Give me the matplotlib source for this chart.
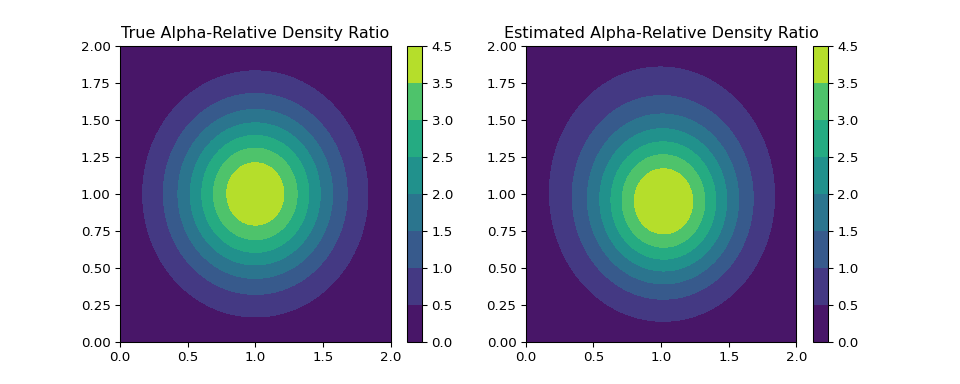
import numpy as np
import matplotlib.pyplot as plt

# true densities: p = N(mu, var_p * I), q = N(mu, var_q * I)
true_mean = [1.0, 1.0]
true_var_p = 1.0 / 8
true_var_q = 1.0 / 2
alpha = 0.0

# estimated ratio as a sum of gaussian kernels
est_cx = [1.025, 0.975]
est_cy = [0.92, 1.13]
est_weight = [3.15, 1.0]
est_sx = [0.365, 0.52]
est_sy = [0.37, 0.52]

levels = [0.0, 0.5, 1.0, 1.5, 2.0, 2.5, 3.0, 3.5, 4.5]

grid = np.linspace(0, 2, 300)
X, Y = np.meshgrid(grid, grid)


def gauss2d(x, y, mean, var):
    d2 = (x - mean[0]) ** 2 + (y - mean[1]) ** 2
    return np.exp(-d2 / (2 * var)) / (2 * np.pi * var)


p = gauss2d(X, Y, true_mean, true_var_p)
q = gauss2d(X, Y, true_mean, true_var_q)
Z_true = p / (alpha * p + (1 - alpha) * q)

Z_est = np.zeros_like(X)
for cx, cy, w, sx, sy in zip(est_cx, est_cy, est_weight, est_sx, est_sy):
    Z_est += w * np.exp(-(X - cx) ** 2 / (2 * sx ** 2) - (Y - cy) ** 2 / (2 * sy ** 2))

fig, axes = plt.subplots(1, 2, figsize=(10, 4), dpi=96)

cs = axes[0].contourf(X, Y, Z_true, levels=levels)
fig.colorbar(cs, ax=axes[0])
axes[0].set_title('True Alpha-Relative Density Ratio')

cs = axes[1].contourf(X, Y, Z_est, levels=levels)
fig.colorbar(cs, ax=axes[1])
axes[1].set_title('Estimated Alpha-Relative Density Ratio')

fig.savefig('out.png', dpi=96)
